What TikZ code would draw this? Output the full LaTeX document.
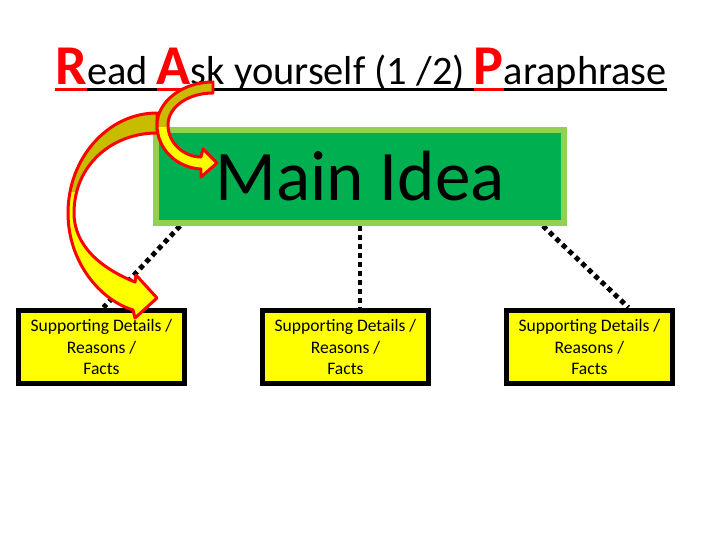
\documentclass[tikz,border=0pt]{standalone}
\usepackage{fontspec}
\setmainfont{Carlito}
\usepackage{tikz}
\usetikzlibrary{positioning,backgrounds}
\definecolor{cGrn}{HTML}{00B050}
\definecolor{cGrnB}{HTML}{92D050}
\definecolor{cYel}{HTML}{FFFF00}
\definecolor{cRed}{HTML}{FF0000}
\definecolor{cOli}{HTML}{C8BC00}
\tikzset{
  mainbox/.style={draw=cGrnB, fill=cGrn, line width=0.12cm, minimum width=8.16cm,
                  minimum height=1.86cm, inner sep=0pt, font=\fontsize{40.5}{44}\selectfont},
  detbox/.style={draw=black, fill=cYel, line width=0.1cm, minimum width=3.32cm,
                 minimum height=1.48cm, inner sep=0pt, align=center,
                 font=\fontsize{10}{12.5}\selectfont},
  dotline/.style={line width=2.8pt, dash pattern=on 2.8pt off 2.3pt},
  bentarrow/.style={draw=cRed, fill=cYel, line width=1.7pt, line join=round},
}
% underlined piece of the title, rule in the colour of the text
\newcommand{\ulpart}[2]{\setbox0=\hbox{\color{#1}#2}\rlap{\color{#1}\rule[-3.4pt]{\wd0}{1.7pt}}\box0}
\newcommand{\redlet}[1]{\ulpart{cRed}{\fontsize{32}{36}\selectfont\bfseries #1}}

\begin{document}
\begin{tikzpicture}[x=0.02cm, y=-0.02cm]
\useasboundingbox (0,0) rectangle (720,540);
% ---- title
\node[anchor=base west, inner sep=0pt, font=\fontsize{23}{27}\selectfont] (title) at (55,85)
  {\redlet{R}\ulpart{black}{ead }\redlet{A}\ulpart{black}{sk yourself (1 /2) }\redlet{P}\ulpart{black}{araphrase}};
% ---- main idea and details
\node[mainbox] (main) at (360,176.5) {Main Idea};
\node[detbox] (d1) at (101.5,347) {Supporting Details /\\Reasons /\\Facts};
\node[detbox, right=1.46cm of d1] (d2) {Supporting Details /\\Reasons /\\Facts};
\node[detbox, right=1.46cm of d2] (d3) {Supporting Details /\\Reasons /\\Facts};
\begin{scope}[on background layer]
  \draw[dotline] ([xshift=0.54cm]main.south west) -- ([xshift=0.04cm]d1.north);
  \draw[dotline] (main.south) -- (main.south |- d2.north);
  \draw[dotline] ([xshift=-0.48cm]main.south east) -- ([xshift=0.78cm]d3.north);
\end{scope}
% ---- curved arrows, back one first
\draw[bentarrow, path picture={\fill[cOli] (0,0) rectangle (720,192);}]
  (157,113) .. controls (108,113) and (68,158) .. (68,213)
  .. controls (68,262) and (100,300) .. (133,310)
  -- (135,318) -- (157,298) -- (136,275) -- (135,282)
  .. controls (100,268) and (74,245) .. (74,213)
  .. controls (74,165) and (112,133) .. (157,133) -- cycle;
\draw[bentarrow, path picture={\fill[cOli] (0,0) rectangle (720,127);}]
  (213,82) .. controls (182,82) and (157,102) .. (157,125)
  .. controls (157,150) and (178,168) .. (201,169)
  -- (201,177) -- (217,163) -- (203,149) -- (201,157)
  .. controls (184,157) and (168,143) .. (168,125)
  .. controls (168,107) and (188,93) .. (213,93) -- cycle;
\end{tikzpicture}
\end{document}
